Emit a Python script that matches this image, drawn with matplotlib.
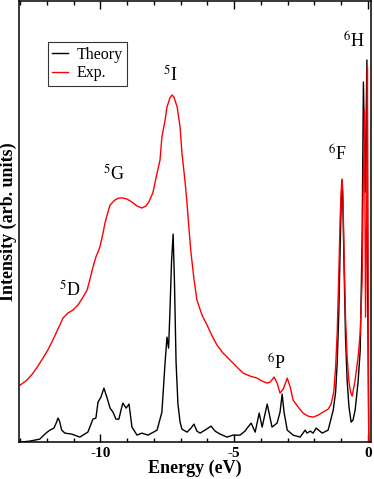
import matplotlib
matplotlib.use("Agg")
import matplotlib.pyplot as plt
from matplotlib.ticker import MultipleLocator

plt.rcParams['font.family'] = ['Liberation Serif', 'DejaVu Serif']
plt.rcParams['mathtext.fontset'] = 'stix'
plt.rcParams['axes.unicode_minus'] = False

# Theory curve (energy in eV, intensity in arb. units)
theory_e = [-13.0, -12.64, -12.27, -12.04, -11.89, -11.74, -11.64, -11.59, -11.53, -11.45,
            -11.33, -11.07, -10.77, -10.47, -10.28, -10.17, -10.09, -9.98, -9.87, -9.76,
            -9.64, -9.53, -9.42, -9.31, -9.23, -9.16, -9.04, -8.93, -8.82, -8.63,
            -8.45, -8.22, -7.88, -7.70, -7.58, -7.51, -7.45, -7.40, -7.34, -7.28,
            -7.23, -7.17, -7.10, -7.02, -6.95, -6.76, -6.61, -6.50, -6.39, -6.27,
            -6.09, -5.86, -5.71, -5.52, -5.26, -5.04, -4.78, -4.59, -4.51, -4.36,
            -4.21, -4.06, -3.95, -3.76, -3.58, -3.39, -3.28, -3.20, -3.13, -3.01,
            -2.79, -2.53, -2.34, -2.27, -2.15, -2.04, -1.93, -1.70, -1.48, -1.29,
            -1.20, -1.14, -1.08, -1.03, -0.99, -0.96, -0.93, -0.88, -0.83, -0.77,
            -0.70, -0.62, -0.55, -0.47, -0.36, -0.28, -0.21, -0.16, -0.09, -0.03,
            0.0, 0.04]
theory_i = [0, 1, 3, 9, 12, 14, 20, 24, 21, 12,
            9, 8, 5, 10, 23, 24, 40, 45, 54, 45,
            34, 30, 23, 23, 32, 39, 34, 38, 15, 7,
            9, 7, 12, 30, 80, 105, 94, 130, 180, 208,
            160, 80, 38, 20, 13, 10, 14, 18, 11, 9,
            12, 16, 11, 8, 5, 7, 7, 11, 14, 19,
            10, 29, 15, 38, 15, 19, 30, 48, 30, 12,
            7, 5, 12, 9, 11, 9, 14, 9, 12, 32,
            50, 80, 130, 195, 240, 262, 240, 170, 105, 62,
            35, 20, 22, 32, 60, 92, 200, 360, 250, 382,
            150, 0]

# Experimental curve
exp_e = [-13.0, -12.75, -12.52, -12.34, -12.15, -11.97, -11.78, -11.59, -11.40, -11.22,
         -11.03, -10.84, -10.65, -10.50, -10.39, -10.28, -10.17, -10.02, -9.91, -9.83,
         -9.72, -9.64, -9.46, -9.31, -9.16, -9.01, -8.82, -8.63, -8.45, -8.30,
         -8.19, -8.04, -7.88, -7.77, -7.70, -7.58, -7.51, -7.40, -7.32, -7.25,
         -7.13, -7.02, -6.95, -6.84, -6.76, -6.69, -6.61, -6.50, -6.39, -6.20,
         -6.01, -5.82, -5.64, -5.41, -5.15, -4.89, -4.66, -4.40, -4.14, -3.95,
         -3.76, -3.65, -3.50, -3.39, -3.28, -3.16, -3.01, -2.90, -2.79, -2.60,
         -2.42, -2.23, -2.04, -1.85, -1.67, -1.48, -1.37, -1.27, -1.20, -1.14,
         -1.08, -1.03, -0.99, -0.96, -0.93, -0.88, -0.83, -0.77, -0.70, -0.64,
         -0.58, -0.47, -0.36, -0.28, -0.21, -0.17, -0.12, -0.08, -0.04, -0.01,
         0.02, 0.04]
exp_i = [57, 62, 69, 76, 84, 92, 102, 113, 124, 129,
         132, 137, 145, 152, 163, 175, 185, 195, 208, 219,
         230, 237, 242, 244, 244, 243, 240, 236, 234, 236,
         240, 249, 269, 282, 305, 322, 335, 344, 347, 345,
         335, 315, 289, 262, 239, 214, 189, 163, 142, 127,
         117, 106, 97, 89, 82, 75, 69, 66, 64, 61,
         59, 60, 65, 59, 49, 53, 64, 55, 42, 35,
         29, 26, 25, 27, 30, 33, 38, 50, 75, 110,
         170, 225, 252, 263, 250, 185, 125, 85, 60, 50,
         46, 62, 85, 109, 160, 250, 332, 125, 220, 375,
         150, 0]

labels = [r'$^{5}$D', r'$^{5}$G', r'$^{5}$I', r'$^{6}$P', r'$^{6}$F', r'$^{6}$H']
label_pos = [(-11.14, 152), (-9.49, 268), (-7.40, 367), (-3.43, 78), (-1.14, 287), (-0.51, 400)]

fig = plt.figure(figsize=(3.74, 4.79), dpi=100)
ax = fig.add_axes([0.052, 0.077, 0.939, 0.921])

ax.plot(theory_e, theory_i, color='black', linewidth=1.0, label='Theory')
ax.plot(exp_e, exp_i, color='red', linewidth=1.0, label='Exp.')

for txt, (x, y) in zip(labels, label_pos):
    ax.text(x, y, txt, fontsize=13, ha='center', va='center')

ax.set_xlim(-13.03, 0.11)
ax.set_ylim(0, 441)
ax.xaxis.set_major_locator(MultipleLocator(5))
ax.xaxis.set_minor_locator(MultipleLocator(1))
ax.set_yticks([])
ax.tick_params(axis='x', which='both', direction='in', top=True, labelsize=11, width=1.0)
ax.tick_params(axis='x', which='major', length=6)
ax.tick_params(axis='x', which='minor', length=3)
for lab in ax.get_xticklabels():
    lab.set_fontweight('bold')
for sp in ax.spines.values():
    sp.set_linewidth(1.1)

ax.set_xlabel('Energy (eV)', fontsize=13, fontweight='bold', labelpad=0)
ax.set_ylabel('Intensity (arb. units)', fontsize=13, fontweight='bold', labelpad=2)

leg = ax.legend(loc='upper left', bbox_to_anchor=(0.08, 0.907), borderaxespad=0,
                fontsize=11.5, frameon=True, fancybox=False, handlelength=1.0,
                handletextpad=0.5, borderpad=0.3, labelspacing=0.15)
leg.get_frame().set_edgecolor('black')
leg.get_frame().set_linewidth(0.8)

fig.savefig('out.png', dpi=100)
